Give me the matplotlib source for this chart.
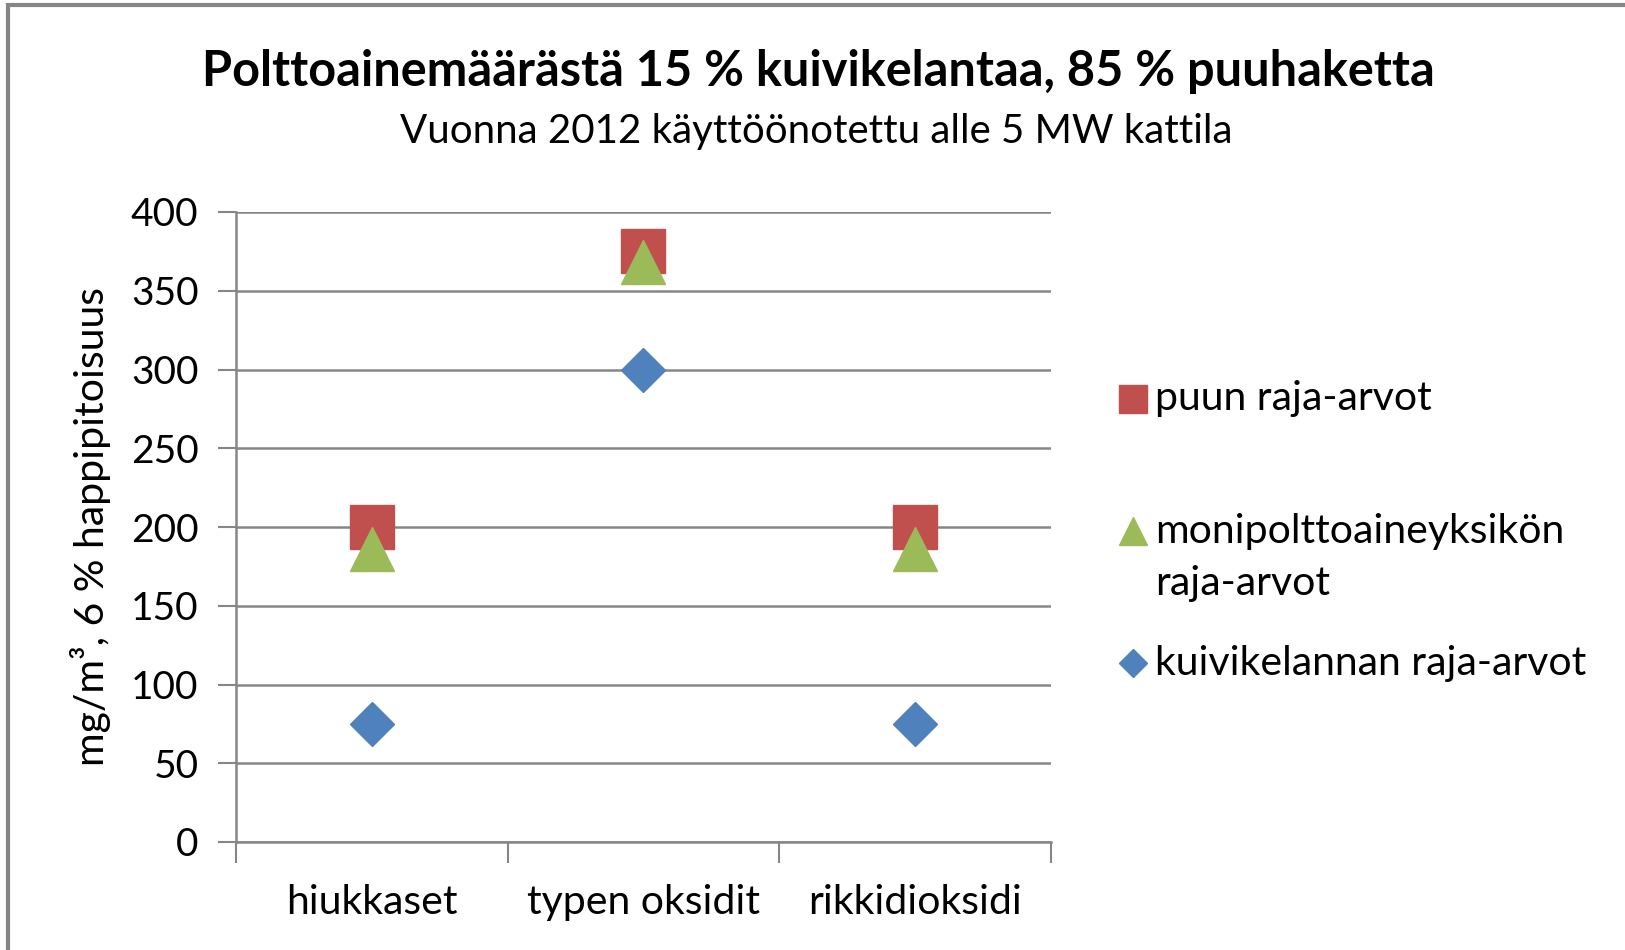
import matplotlib.pyplot as plt
from matplotlib.lines import Line2D
from matplotlib.patches import Rectangle

plt.rcParams['font.family'] = ['Lato', 'DejaVu Sans']

# data
categories = ["hiukkaset", "typen oksidit", "rikkidioksidi"]
puun = [200, 375, 200]
moni = [186, 368, 186]
kuivike = [75, 300, 75]
series_labels = ["puun raja-arvot", "monipolttoaineyksikön\nraja-arvot", "kuivikelannan raja-arvot"]
yticks = [0, 50, 100, 150, 200, 250, 300, 350, 400]

RED = "#C0504D"
GREEN = "#9BBB59"
BLUE = "#4F81BD"
GRID = "#868686"

W, H = 1625, 950
fig = plt.figure(figsize=(W / 100, H / 100), dpi=100)

def fx(px):
    return px / W

def fy(py):
    return 1 - py / H

ax = fig.add_axes([fx(236), fy(842), fx(1051) - fx(236), fy(212) - fy(842)])

x = range(len(categories))
ax.plot(x, kuivike, linestyle='none', marker='D', markersize=22, color=BLUE, zorder=3)
ax.plot(x, puun, linestyle='none', marker='s', markersize=31, color=RED, zorder=4)
ax.plot(x, moni, linestyle='none', marker='^', markersize=31, color=GREEN, zorder=5)

ax.set_xlim(-0.5, 2.5)
ax.set_ylim(0, 400)
ax.set_yticks(yticks)
ax.set_xticks(x)
ax.set_xticklabels(categories)
ax.set_xticks([-0.5, 0.5, 1.5, 2.5], minor=True)
ax.tick_params(axis='x', which='major', length=0, labelsize=29.5, pad=30)
ax.tick_params(axis='x', which='minor', length=15, width=1.5, color=GRID)
ax.tick_params(axis='y', length=13, width=1.5, color=GRID, labelsize=28, pad=14)
ax.yaxis.grid(True, color=GRID, linewidth=1.8)
ax.set_axisbelow(True)
for s in ['top', 'right']:
    ax.spines[s].set_visible(False)
for s in ['left', 'bottom']:
    ax.spines[s].set_color(GRID)
    ax.spines[s].set_linewidth(1.8)

ax.set_ylabel("mg/m³, 6 % happipitoisuus", fontsize=29.5, labelpad=14)

fig.text(fx(818), fy(72), "Polttoainemäärästä 15 % kuivikelantaa, 85 % puuhaketta",
         fontsize=35, fontweight='bold', ha='center', va='center')
fig.text(fx(816), fy(131), "Vuonna 2012 käyttöönotettu alle 5 MW kattila",
         fontsize=29, ha='center', va='center')

# legend, drawn by hand so the marker sits on the first text line
leg_rows = [(399, 's', RED, 20), (531, '^', GREEN, 20), (663, 'D', BLUE, 14)]
line_step = 53
for (py, m, c, ms), lab in zip(leg_rows, series_labels):
    fig.add_artist(Line2D([fx(1133)], [fy(py)], marker=m, markersize=ms, color=c,
                          linestyle='none', transform=fig.transFigure))
    for i, part in enumerate(lab.split("\n")):
        fig.text(fx(1155), fy(py + i * line_step), part, fontsize=29.5,
                 ha='left', va='center')

# outer frame of the chart area
fig.add_artist(Rectangle((fx(8), fy(1100)), 2, fy(5) - fy(1100), fill=False,
                         edgecolor=GRID, linewidth=3, transform=fig.transFigure))

fig.savefig("out.png", dpi=100)
